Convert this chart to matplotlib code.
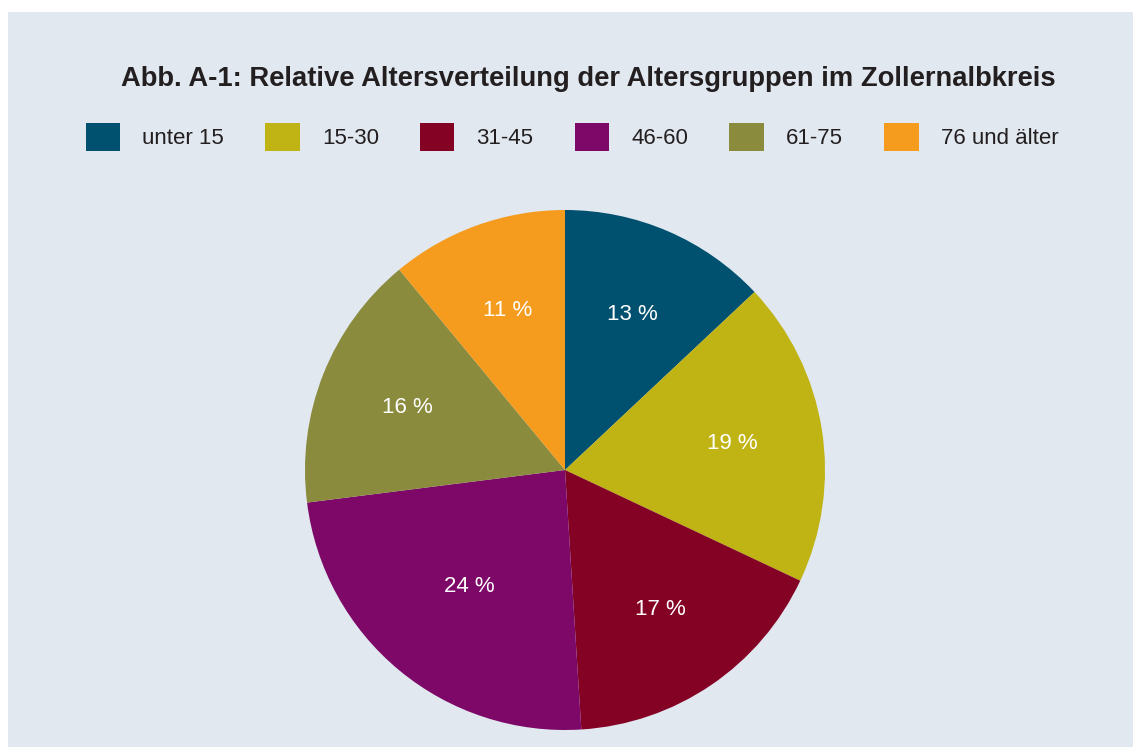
import matplotlib
matplotlib.use("Agg")
import matplotlib.pyplot as plt
import numpy as np
from matplotlib.patches import Rectangle, Patch

plt.rcParams['font.family'] = ['Liberation Sans', 'DejaVu Sans']

# Altersgruppen und Anteile in Prozent
groups = ['unter 15', '15-30', '31-45', '46-60', '61-75', '76 und älter']
shares = [13, 19, 17, 24, 16, 11]
colors = ['#00506f', '#c0b314', '#840325', '#7d0868', '#8a8b3c', '#f59b1e']
title = 'Abb. A-1: Relative Altersverteilung der Altersgruppen im Zollernalbkreis'

W, H = 1133, 747
fig = plt.figure(figsize=(W / 100, H / 100), dpi=100)
fig.patch.set_facecolor('white')
# hellblauer Hintergrund mit weissem Rand oben/links
fig.patches.append(Rectangle((8 / W, 0), 1, (H - 12) / H, transform=fig.transFigure,
                             facecolor='#e1e8f0', edgecolor='none', zorder=-5))

cx, cy, r = 565, 470, 260
ax = fig.add_axes([(cx - r) / W, (H - cy - r) / H, 2 * r / W, 2 * r / H])
ax.set_zorder(2)
ax.set_facecolor('none')
wedges, texts, autotexts = ax.pie(
    shares, colors=colors, startangle=90, counterclock=False,
    autopct=lambda p: f'{p:.0f} %', pctdistance=0.65,
    wedgeprops=dict(linewidth=0),
    textprops=dict(color='white', fontsize=16))
# die 24 %-Beschriftung sitzt im Original etwas naeher an der Mitte
w = wedges[3]
mid = np.deg2rad((w.theta1 + w.theta2) / 2)
autotexts[3].set_position((0.58 * np.cos(mid), 0.58 * np.sin(mid)))
ax.set_xlim(-1, 1)
ax.set_ylim(-1, 1)
ax.set_aspect('equal')
ax.axis('off')

fig.text(588 / W, 1 - 79 / H, title, ha='center', va='center',
         fontsize=19.7, fontweight='bold', color='#231f20')

handles = [Patch(facecolor=c, edgecolor='none') for c in colors]
fig.legend(handles, groups, loc='center', bbox_to_anchor=(572 / W, 1 - 137 / H),
           ncol=6, frameon=False, fontsize=16, handlelength=1.55, handleheight=1.6,
           handletextpad=1.0, columnspacing=1.85, labelcolor='#231f20')

fig.savefig('out.png', dpi=100, facecolor=fig.get_facecolor())
